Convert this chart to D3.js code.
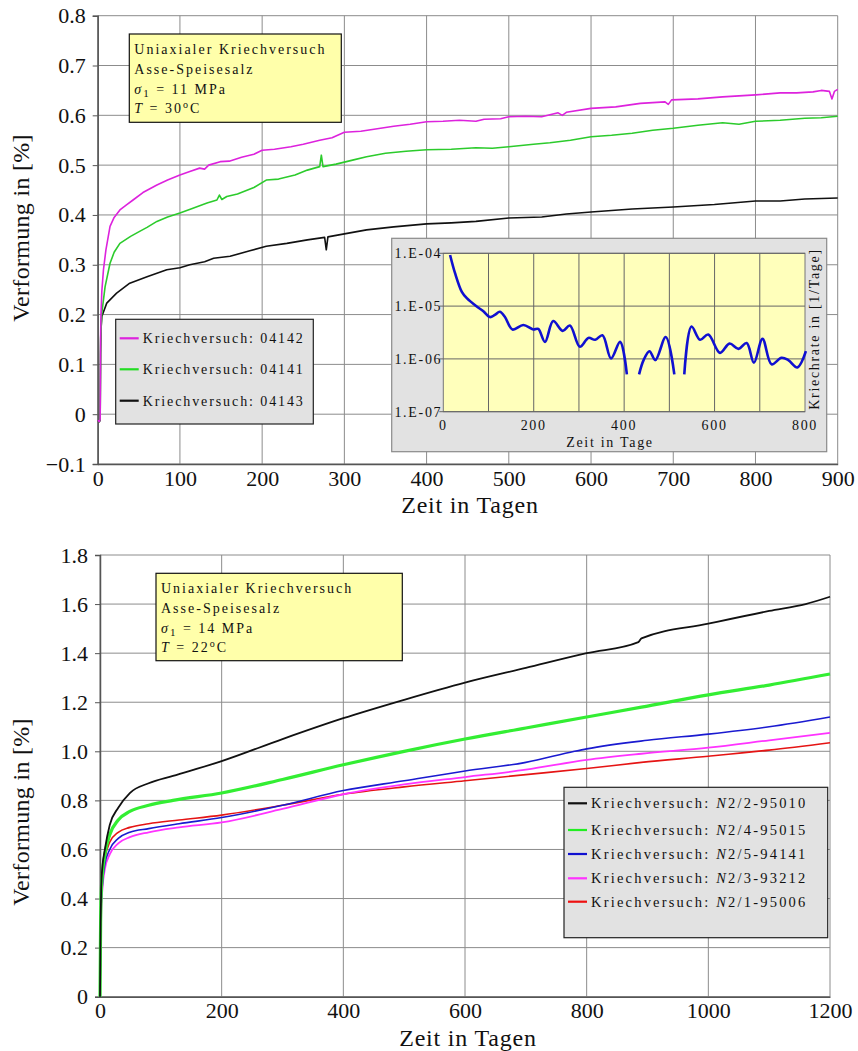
<!DOCTYPE html>
<html>
<head>
<meta charset="utf-8">
<script src="https://cdn.jsdelivr.net/npm/d3@7"></script>
<style>
  body { margin: 0; background: #fff; }
  svg { display: block; }
  text { font-family: "Liberation Serif", "DejaVu Serif", serif; fill: #111; }
  .small { font-size: 14px; letter-spacing: 2px; }
  .inset-t { font-size: 14px; letter-spacing: 1.7px; }
</style>
</head>
<body>
<svg id="chart" width="858" height="1051"></svg>
<script>
// ---- Daten oben: Kriechversuche sigma1 = 11 MPa, T = 30 C ----
var topTicksX = [0, 100, 200, 300, 400, 500, 600, 700, 800, 900];
var topTicksY = [-0.1, 0, 0.1, 0.2, 0.3, 0.4, 0.5, 0.6, 0.7, 0.8];

var kv04142 = [[0,-0.012],[2,-0.015],[3,-0.01],[3.5,0.15],[4,0.2],[5,0.246],[7,0.29],[10,0.33],[15,0.377],[20,0.395],[27,0.41],[35,0.42],[43,0.43],[55,0.445],[72,0.46],[85,0.47],[100,0.48],[112,0.487],[124,0.494],[130,0.492],[135,0.5],[149,0.507],[160,0.508],[175,0.516],[190,0.522],[200,0.53],[215,0.532],[235,0.537],[250,0.542],[270,0.55],[285,0.555],[300,0.566],[320,0.568],[340,0.573],[360,0.578],[380,0.582],[400,0.587],[420,0.588],[440,0.59],[460,0.588],[470,0.592],[490,0.593],[500,0.597],[520,0.598],[540,0.597],[560,0.605],[565,0.6],[570,0.606],[600,0.614],[630,0.617],[660,0.624],[690,0.627],[694,0.622],[698,0.631],[730,0.633],[760,0.637],[790,0.64],[800,0.641],[830,0.645],[850,0.645],[870,0.647],[880,0.65],[890,0.648],[893,0.633],[896,0.648],[900,0.652]];

var kv04141 = [[0,-0.012],[2,-0.015],[3,-0.01],[3.5,0.15],[5,0.203],[9,0.256],[15,0.303],[20,0.325],[27,0.343],[40,0.357],[51,0.367],[60,0.375],[72,0.387],[85,0.396],[100,0.404],[115,0.413],[133,0.424],[145,0.43],[148,0.44],[151,0.431],[157,0.437],[170,0.442],[190,0.455],[205,0.47],[220,0.472],[240,0.48],[255,0.49],[270,0.497],[272,0.52],[274,0.497],[290,0.502],[310,0.51],[327,0.517],[350,0.524],[375,0.528],[400,0.531],[430,0.532],[460,0.535],[480,0.534],[500,0.537],[530,0.542],[550,0.545],[575,0.55],[600,0.557],[625,0.56],[650,0.564],[675,0.57],[700,0.574],[730,0.58],[760,0.585],[780,0.582],[800,0.588],[830,0.59],[860,0.594],[880,0.595],[900,0.598]];

var kv04143 = [[0,-0.012],[2,-0.015],[3,-0.012],[3.5,0.12],[4,0.17],[5,0.196],[11,0.223],[23,0.243],[39,0.263],[60,0.276],[84,0.29],[100,0.294],[112,0.3],[130,0.306],[141,0.313],[161,0.317],[185,0.328],[205,0.337],[230,0.343],[255,0.35],[276,0.355],[278,0.33],[280,0.356],[300,0.362],[327,0.37],[360,0.376],[400,0.382],[430,0.384],[460,0.387],[500,0.394],[540,0.396],[570,0.402],[600,0.406],[650,0.412],[700,0.416],[750,0.421],[800,0.428],[830,0.428],[860,0.432],[880,0.433],[900,0.434]];

// Kriechrate (Inset), null = Luecke
var rateTicksX = [0, 200, 400, 600, 800];
var rateGridX = [100, 200, 300, 400, 500, 600, 700];
var rateTicksY = [1e-4, 1e-5, 1e-6, 1e-7];
var rateLabels = ["1.E-04", "1.E-05", "1.E-06", "1.E-07"];
var kriechrate = [[15,9.3e-5],[26,4.2e-5],[41,1.86e-5],[52,1.41e-5],[74,9.8e-6],[88,8.1e-6],[103,6.2e-6],[114,6.8e-6],[125,7.8e-6],[136,6.3e-6],[153,3.6e-6],[177,4.4e-6],[199,3.6e-6],[210,3.7e-6],[225,2.1e-6],[243,5.2e-6],[264,3.4e-6],[280,4.3e-6],[302,1.7e-6],[321,2.5e-6],[336,2.3e-6],[352,2.8e-6],[371,1.02e-6],[391,2.1e-6],[406,5.1e-7],[420,null],
  [433,5.1e-7],[443,9.5e-7],[456,1.4e-6],[469,9.5e-7],[492,2.6e-6],[511,5.1e-7],[522,null],
  [533,5.1e-7],[549,4.1e-6],[568,2.3e-6],[586,2.9e-6],[612,1.3e-6],[633,1.95e-6],[653,1.55e-6],[671,2.0e-6],[687,8.5e-7],[706,2.4e-6],[726,7.9e-7],[748,1.05e-6],[763,9.5e-7],[783,6.9e-7],[802,1.4e-6]];

// ---- Daten unten: sigma1 = 14 MPa, T = 22 C ----
var botTicksX = [0, 200, 400, 600, 800, 1000, 1200];
var botTicksY = [0, 0.2, 0.4, 0.6, 0.8, 1.0, 1.2, 1.4, 1.6, 1.8];

var n2_95010 = [[0,0],[1,0.3],[2,0.45],[4,0.53],[8,0.6],[16,0.7],[30,0.77],[49,0.83],[80,0.87],[120,0.9],[200,0.96],[300,1.05],[400,1.135],[500,1.21],[600,1.28],[700,1.34],[800,1.4],[885,1.445],[890,1.46],[1000,1.52],[1100,1.572],[1160,1.6],[1200,1.63]];
var n2_95015 = [[0,0],[1,0.3],[2,0.42],[4,0.5],[8,0.58],[16,0.66],[30,0.72],[49,0.755],[80,0.78],[120,0.8],[200,0.83],[300,0.885],[400,0.945],[500,1.0],[600,1.05],[700,1.095],[800,1.14],[890,1.18],[1000,1.23],[1100,1.27],[1200,1.315]];
var n2_94141 = [[0,0],[2,0.38],[4,0.46],[8,0.54],[16,0.6],[30,0.645],[49,0.67],[80,0.685],[130,0.705],[200,0.73],[300,0.78],[400,0.84],[500,0.88],[600,0.92],[700,0.955],[780,1.0],[800,1.01],[900,1.045],[1000,1.07],[1100,1.1],[1200,1.14]];
var n2_93212 = [[0,0],[2,0.35],[4,0.44],[8,0.52],[16,0.58],[30,0.625],[49,0.65],[80,0.67],[130,0.69],[200,0.71],[300,0.765],[400,0.825],[500,0.865],[600,0.895],[700,0.925],[800,0.965],[890,0.99],[1000,1.015],[1100,1.045],[1200,1.075]];
var n2_95006 = [[0,0],[2,0.4],[4,0.48],[8,0.56],[16,0.63],[30,0.67],[49,0.69],[80,0.705],[130,0.72],[200,0.74],[300,0.78],[400,0.825],[500,0.855],[600,0.88],[700,0.905],[800,0.93],[890,0.955],[1000,0.98],[1100,1.005],[1200,1.035]];

var svg = d3.select("#chart");
var fmtY = function(d){ return d === 0 ? "0" : d3.format(".1f")(d); };

// Gitter + Achsen zeichnen
function drawFrame(x, y, ticksX, ticksY){
  var g = svg.append("g").attr("class","frame");
  var x0 = x.range()[0], x1 = x.range()[1], y0 = y.range()[0], y1 = y.range()[1];

  g.append("g").selectAll("line").data(ticksY).enter().append("line")
    .attr("x1", x0).attr("x2", x1)
    .attr("y1", function(d){ return y(d); }).attr("y2", function(d){ return y(d); })
    .attr("stroke", "#8c8c8c").attr("stroke-width", 1);
  g.append("g").selectAll("line").data(ticksX).enter().append("line")
    .attr("y1", y0).attr("y2", y1)
    .attr("x1", function(d){ return x(d); }).attr("x2", function(d){ return x(d); })
    .attr("stroke", "#8c8c8c").attr("stroke-width", 1);

  var ax = g.append("g").attr("transform", "translate(0," + y0 + ")")
    .call(d3.axisBottom(x).tickValues(ticksX).tickSize(0).tickPadding(6).tickFormat(d3.format("d")));
  var ay = g.append("g").attr("transform", "translate(" + x0 + ",0)")
    .call(d3.axisLeft(y).tickValues(ticksY).tickSize(5).tickPadding(7).tickFormat(fmtY));
  [ax, ay].forEach(function(a){
    a.select(".domain").attr("stroke", "#555").attr("stroke-width", 1.5);
    a.selectAll(".tick line").attr("stroke", "#555");
    a.selectAll("text").attr("font-size", 22).attr("font-family", "Liberation Serif").attr("fill", "#111");
  });
}

function drawLines(x, y, series, curve){
  var line = d3.line().x(function(d){ return x(d[0]); }).y(function(d){ return y(d[1]); }).curve(curve);
  svg.append("g").attr("class","lines").selectAll("path").data(series).enter().append("path")
    .attr("d", function(d){ return line(d.values); })
    .attr("fill", "none")
    .attr("stroke", function(d){ return d.color; })
    .attr("stroke-width", function(d){ return d.width; })
    .attr("stroke-linejoin", "round");
}

function infoBox(x0, y0, w, h, sigma, temp){
  var g = svg.append("g").attr("class","info");
  g.append("rect").attr("x", x0).attr("y", y0).attr("width", w).attr("height", h)
    .attr("fill", "#ffffaa").attr("stroke", "#111").attr("stroke-width", 1.2);
  var tx = x0 + 5;
  g.append("text").attr("class","small").attr("x", tx).attr("y", y0 + 20).text("Uniaxialer Kriechversuch");
  g.append("text").attr("class","small").attr("x", tx).attr("y", y0 + 40).text("Asse-Speisesalz");
  var s = g.append("text").attr("class","small").attr("x", tx).attr("y", y0 + 60);
  s.append("tspan").attr("font-style","italic").text("σ");
  s.append("tspan").attr("font-size", 11).attr("dy", 3).text("1");
  s.append("tspan").attr("dy", -3).text(" = " + sigma + " MPa");
  var t = g.append("text").attr("class","small").attr("x", tx).attr("y", y0 + 79);
  t.append("tspan").attr("font-style","italic").text("T");
  t.append("tspan").text(" = " + temp);
  t.append("tspan").attr("font-size", 10).attr("dy", -5).text("o");
  t.append("tspan").attr("dy", 5).text("C");
}

function legendBox(x0, y0, w, h, items, ys, fs, ls){
  var g = svg.append("g").attr("class","legend");
  g.append("rect").attr("x", x0).attr("y", y0).attr("width", w).attr("height", h)
    .attr("fill", "#e2e2e2").attr("stroke", "#222").attr("stroke-width", 1.2);
  var it = g.selectAll("g").data(items).enter().append("g")
    .attr("transform", function(d, i){ return "translate(" + x0 + "," + ys[i] + ")"; });
  it.append("line").attr("x1", 4).attr("x2", 23).attr("y1", 0).attr("y2", 0)
    .attr("stroke", function(d){ return d.color; }).attr("stroke-width", 2.2);
  var tx = it.append("text").attr("x", 27).attr("y", 5).attr("font-size", fs).attr("letter-spacing", ls);
  tx.append("tspan").text("Kriechversuch: ");
  tx.append("tspan").attr("font-style", "italic").text(function(d){ return d.id ? "N" : ""; });
  tx.append("tspan").text(function(d){ return d.id ? d.id : d.name; });
}

// ================= oberes Diagramm =================
var xTop = d3.scaleLinear().domain([0, 900]).range([97.7, 837.7]);
var yTop = d3.scaleLinear().domain([-0.1, 0.8]).range([464, 15.7]);
drawFrame(xTop, yTop, topTicksX, topTicksY);
drawLines(xTop, yTop, [
  {values: kv04143, color: "#111", width: 1.6},
  {values: kv04141, color: "#2ccb2c", width: 1.6},
  {values: kv04142, color: "#dd22dd", width: 1.6}
], d3.curveLinear);
svg.append("text").attr("transform", "translate(29,228) rotate(-90)").attr("text-anchor", "middle")
  .attr("font-size", 24).attr("letter-spacing", 0.3).text("Verformung in [%]");
svg.append("text").attr("x", 470).attr("y", 513).attr("text-anchor", "middle")
  .attr("font-size", 24).attr("letter-spacing", 0.8).text("Zeit in Tagen");

infoBox(129.3, 34, 212, 88.3, "11", "30");
legendBox(115.7, 319.3, 197.6, 104.7, [
  {name: "04142", color: "#dd22dd"},
  {name: "04141", color: "#22dd22"},
  {name: "04143", color: "#111"}
], [338.3, 369.3, 400.7], 14, 1.9);

// Inset Kriechrate
(function(){
  var g = svg.append("g").attr("class","inset");
  g.append("rect").attr("x", 391.7).attr("y", 238.3).attr("width", 435).attr("height", 213.4)
    .attr("fill", "#e2e2e2").attr("stroke", "#8a8a8a").attr("stroke-width", 1.2);
  var xi = d3.scaleLinear().domain([0, 800]).range([443.3, 805]);
  var yi = d3.scaleLog().domain([1e-7, 1e-4]).range([411.7, 253.3]);
  g.append("rect").attr("x", xi(0)).attr("y", yi(1e-4)).attr("width", xi(800) - xi(0)).attr("height", yi(1e-7) - yi(1e-4))
    .attr("fill", "#ffffbb").attr("stroke", "#777");
  g.append("g").selectAll("line").data(rateGridX).enter().append("line")
    .attr("x1", function(d){ return xi(d); }).attr("x2", function(d){ return xi(d); })
    .attr("y1", yi(1e-7)).attr("y2", yi(1e-4)).attr("stroke", "#666");
  g.append("g").selectAll("line").data(rateTicksY).enter().append("line")
    .attr("x1", xi(0) - 4).attr("x2", xi(800))
    .attr("y1", function(d){ return yi(d); }).attr("y2", function(d){ return yi(d); }).attr("stroke", "#666");
  g.append("g").selectAll("text").data(rateTicksY).enter().append("text")
    .attr("class","inset-t").attr("x", xi(0) - 1).attr("y", function(d){ return yi(d) + 5; })
    .attr("text-anchor", "end").attr("letter-spacing", 2)
    .text(function(d, i){ return rateLabels[i]; });
  g.append("g").selectAll("text").data(rateTicksX).enter().append("text")
    .attr("class","inset-t").attr("x", function(d){ return xi(d); }).attr("y", yi(1e-7) + 18)
    .attr("text-anchor", "middle").text(function(d){ return d; });
  g.append("text").attr("class","inset-t").attr("x", 610).attr("y", 447).attr("text-anchor", "middle").text("Zeit in Tage");
  g.append("text").attr("class","inset-t").attr("transform", "translate(819,329) rotate(-90)")
    .attr("text-anchor", "middle").text("Kriechrate in [1/Tage]");
  var line = d3.line().defined(function(d){ return d[1] != null; })
    .x(function(d){ return xi(d[0]); }).y(function(d){ return yi(d[1]); })
    .curve(d3.curveCatmullRom);
  g.append("path").attr("d", line(kriechrate)).attr("fill", "none")
    .attr("stroke", "#1010d0").attr("stroke-width", 2.6);
})();

// ================= unteres Diagramm =================
var xBot = d3.scaleLinear().domain([0, 1200]).range([100, 830]);
var yBot = d3.scaleLinear().domain([0, 1.8]).range([996.7, 555]);
drawFrame(xBot, yBot, botTicksX, botTicksY);
drawLines(xBot, yBot, [
  {values: n2_95006, color: "#e51414", width: 1.6},
  {values: n2_93212, color: "#ff33ff", width: 1.8},
  {values: n2_94141, color: "#1a1ad0", width: 1.6},
  {values: n2_95015, color: "#33ee33", width: 3.2},
  {values: n2_95010, color: "#111", width: 1.8}
], d3.curveMonotoneX);
svg.append("text").attr("transform", "translate(29,812) rotate(-90)").attr("text-anchor", "middle")
  .attr("font-size", 24).attr("letter-spacing", 0.3).text("Verformung in [%]");
svg.append("text").attr("x", 468).attr("y", 1046).attr("text-anchor", "middle")
  .attr("font-size", 24).attr("letter-spacing", 0.8).text("Zeit in Tagen");

infoBox(156, 573.3, 246.3, 87.4, "14", "22");
legendBox(564, 787.3, 263.7, 150.4, [
  {id: "2/2-95010", color: "#111"},
  {id: "2/4-95015", color: "#22ee22"},
  {id: "2/5-94141", color: "#1010d0"},
  {id: "2/3-93212", color: "#ff33ff"},
  {id: "2/1-95006", color: "#ee1111"}
], [803.3, 830, 854, 878.3, 901.7], 14.5, 2.2);
</script>
</body>
</html>
